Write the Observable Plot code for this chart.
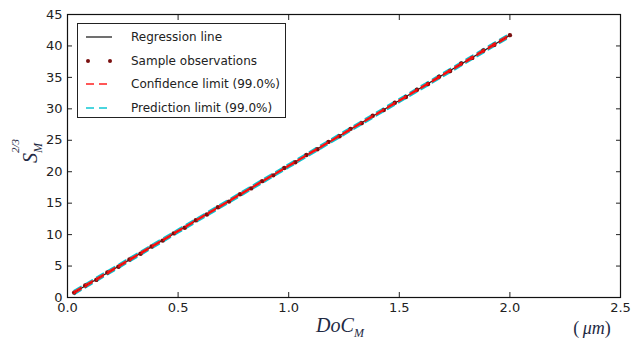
<!DOCTYPE html>
<html><head><meta charset="utf-8">
<script src="https://cdn.jsdelivr.net/npm/d3@7"></script>
<script src="https://cdn.jsdelivr.net/npm/@observablehq/plot@0.6"></script>
<style>
body{margin:0;background:#fff;}
#wrap{position:relative;width:639px;height:338px;font-family:"DejaVu Sans",sans-serif;}
#legend{position:absolute;left:77px;top:23px;width:209px;height:95px;border:1px solid #222;background:#fff;box-sizing:border-box;}
.row{position:absolute;left:0;height:20px;display:flex;align-items:center;font-size:12px;color:#222;white-space:nowrap;}
.row svg{margin-left:8px;margin-right:19px;flex:none;}
.lab{position:absolute;font-family:"Liberation Serif",serif;font-style:italic;color:#1f2a44;}
</style></head>
<body><div id="wrap"></div>
<script>
// Sample observations
const obsX = [0.03,0.08,0.13,0.18,0.23,0.28,0.33,0.38,0.43,0.48,0.53,0.58,0.63,0.68,0.73,0.78,0.83,0.88,0.93,0.98,1.03,1.08,1.13,1.18,1.23,1.28,1.33,1.38,1.43,1.48,1.53,1.58,1.63,1.68,1.73,1.78,1.83,1.88,1.93,2.00];
const obsY = [0.78,1.90,2.80,3.98,4.90,6.05,6.95,8.12,9.05,10.20,11.10,12.28,13.20,14.36,15.25,16.42,17.35,18.50,19.42,20.58,21.50,22.66,23.58,24.74,25.65,26.82,27.72,28.90,29.80,30.96,31.88,33.04,33.95,35.12,36.02,37.20,38.10,39.28,40.18,41.72];
// Regression line and limits
const limX = [0.03,0.5,1.0,1.5,2.0];
const regY = [0.80,10.56,20.94,31.32,41.70];
const confUpper = [0.95,10.66,21.03,31.42,41.85];
const confLower = [0.65,10.46,20.85,31.22,41.55];
const predUpper = [1.12,10.86,21.24,31.62,42.02];
const predLower = [0.48,10.26,20.64,31.02,41.38];
const xTicks = [0,0.5,1,1.5,2,2.5];
const yTicks = [0,5,10,15,20,25,30,35,40,45];

const reg = limX.map((x,i)=>({x,y:regY[i]}));
const cu = limX.map((x,i)=>({x,y:confUpper[i]}));
const cl = limX.map((x,i)=>({x,y:confLower[i]}));
const pu = limX.map((x,i)=>({x,y:predUpper[i]}));
const pl = limX.map((x,i)=>({x,y:predLower[i]}));
const obs = obsX.map((x,i)=>({x,y:obsY[i]}));

const dash = "8,5";
const chart = Plot.plot({
  width:639, height:338,
  marginLeft:67, marginRight:19, marginTop:14, marginBottom:41,
  style:{fontFamily:"DejaVu Sans, sans-serif", fontSize:"13px", color:"#222", background:"white"},
  x:{domain:[0,2.5]},
  y:{domain:[0,45]},
  marks:[
    Plot.line(reg,{x:"x",y:"y",stroke:"#222",strokeWidth:1.3}),
    Plot.line(pu,{x:"x",y:"y",stroke:"#00c8d4",strokeWidth:1.5,strokeDasharray:dash}),
    Plot.line(pl,{x:"x",y:"y",stroke:"#00c8d4",strokeWidth:1.5,strokeDasharray:dash}),
    Plot.dot(obs,{x:"x",y:"y",r:2.2,fill:"#7a1010",stroke:"none"}),
    Plot.line(cu,{x:"x",y:"y",stroke:"#ff1010",strokeWidth:1.5,strokeDasharray:dash}),
    Plot.line(cl,{x:"x",y:"y",stroke:"#ff1010",strokeWidth:1.5,strokeDasharray:dash}),
    Plot.axisX(xTicks,{anchor:"bottom",tickSize:0,tickPadding:5,tickFormat:d3.format(".1f"),label:null,fontSize:13}),
    Plot.axisX(xTicks,{anchor:"bottom",tickSize:-5,tickFormat:()=>"",label:null}),
    Plot.axisX(xTicks,{anchor:"top",tickSize:-5,tickFormat:()=>"",label:null}),
    Plot.axisY(yTicks,{anchor:"left",tickSize:0,tickPadding:5,label:null,fontSize:13}),
    Plot.axisY(yTicks,{anchor:"left",tickSize:-5,tickFormat:()=>"",label:null}),
    Plot.axisY(yTicks,{anchor:"right",tickSize:-5,tickFormat:()=>"",label:null}),
    Plot.frame({stroke:"#111",strokeWidth:1.2})
  ]
});
const wrap = document.getElementById("wrap");
wrap.appendChild(chart);

// legend
const items = [
  {t:"Regression line", k:"line"},
  {t:"Sample observations", k:"dots"},
  {t:"Confidence limit (99.0%)", k:"conf"},
  {t:"Prediction limit (99.0%)", k:"pred"}
];
const leg = document.createElement("div"); leg.id="legend";
items.forEach((it,i)=>{
  const r = document.createElement("div"); r.className="row"; r.style.top=(3+i*23.5)+"px";
  let sw;
  if(it.k==="line") sw=`<line x1="0" y1="6" x2="26" y2="6" stroke="#222" stroke-width="1.3"/>`;
  else if(it.k==="dots") sw=`<circle cx="2" cy="6" r="2" fill="#7a1010"/><circle cx="24" cy="6" r="2" fill="#7a1010"/>`;
  else if(it.k==="conf") sw=`<line x1="0" y1="6" x2="26" y2="6" stroke="#ff2020" stroke-width="1.3" stroke-dasharray="8,5"/>`;
  else sw=`<line x1="0" y1="6" x2="26" y2="6" stroke="#10c8d4" stroke-width="1.3" stroke-dasharray="8,5"/>`;
  r.innerHTML=`<svg width="26" height="12">${sw}</svg><span>${it.t}</span>`;
  leg.appendChild(r);
});
wrap.appendChild(leg);

// axis labels
const yl = document.createElement("div"); yl.className="lab";
yl.style.cssText+="left:30px;top:153px;font-size:20px;transform:translate(-50%,-50%) rotate(-90deg);white-space:nowrap;";
yl.innerHTML=`S<span style="display:inline-block;position:relative;"><span style="position:absolute;left:0;top:-10px;font-size:11px;">2/3</span><span style="position:relative;top:5px;font-size:12px;">M</span></span>`;
wrap.appendChild(yl);
const xl = document.createElement("div"); xl.className="lab";
xl.style.cssText+="left:340px;top:325px;font-size:20px;transform:translate(-50%,-50%);white-space:nowrap;";
xl.innerHTML=`DoC<span style="font-size:12px;position:relative;top:5px;">M</span>`;
wrap.appendChild(xl);
const ul = document.createElement("div"); ul.className="lab";
ul.style.cssText+="left:592px;top:328px;font-size:18px;transform:translate(-50%,-50%);white-space:nowrap;";
ul.innerHTML=`<span style="font-style:normal">(</span>&#8201;μm<span style="font-style:normal">)</span>`;
wrap.appendChild(ul);
</script></body></html>
